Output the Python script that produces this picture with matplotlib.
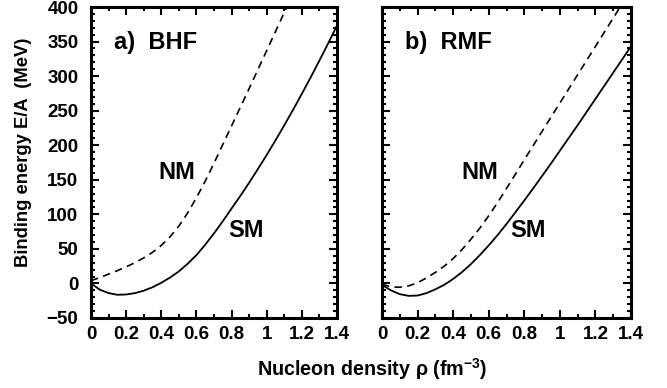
import numpy as np
import matplotlib
matplotlib.use("Agg")
import matplotlib.pyplot as plt
from matplotlib.ticker import MultipleLocator, FuncFormatter

plt.rcParams['font.family'] = ['Liberation Sans', 'DejaVu Sans']
plt.rcParams['font.weight'] = 'bold'
plt.rcParams['mathtext.fontset'] = 'custom'
plt.rcParams['mathtext.rm'] = 'Liberation Sans:bold'
plt.rcParams['mathtext.default'] = 'rm'

# Nucleon density grid (fm^-3)
rho = [0.0, 0.05, 0.10, 0.15, 0.20, 0.25, 0.30, 0.35, 0.40, 0.45, 0.50, 0.55, 0.60, 0.65,
       0.70, 0.75, 0.80, 0.85, 0.90, 0.95, 1.00, 1.05, 1.10, 1.15, 1.20, 1.25, 1.30, 1.35, 1.40]

# BHF: symmetric matter (SM) and neutron matter (NM), E/A in MeV
bhf_sm = [0.0, -9.0, -14.0, -16.4, -16.0, -14.0, -10.5, -5.5, 1.0, 8.5, 17.5, 28.5, 41.0, 56.0,
          72.5, 90.0, 108.5, 126.7, 145.8, 165.6, 186.0, 207.1, 228.9, 251.3, 274.4, 298.1,
          322.5, 347.5, 373.2]
bhf_nm = [4.0, 8.5, 13.5, 18.5, 24.0, 30.0, 37.0, 45.0, 55.0, 67.5, 83.0, 102.0, 124.0, 148.0,
          174.0, 201.0, 228.0, 255.0, 282.0, 309.5, 337.0, 364.5, 392.0, 419.5]

# RMF: symmetric matter (SM) and neutron matter (NM), E/A in MeV
rmf_sm = [-2.0, -10.0, -15.5, -18.0, -17.5, -14.0, -8.5, -2.0, 6.5, 16.5, 28.0, 41.0, 55.0, 70.0,
          86.0, 103.0, 120.0, 137.5, 155.5, 173.5, 192.0, 210.5, 229.0, 248.0, 267.0, 286.0,
          305.0, 324.0, 343.0]
rmf_nm = [-1.0, -5.0, -5.5, -3.5, 1.0, 8.0, 16.0, 25.0, 36.0, 49.0, 64.0, 80.0, 98.0, 117.0,
          137.5, 158.0, 179.0, 199.5, 220.0, 240.5, 261.0, 281.5, 302.0, 322.5, 343.0, 363.5,
          384.0, 404.5]

panels = [
    ("a)  BHF", bhf_sm, bhf_nm, (0.49, 161), (0.88, 77)),
    ("b)  RMF", rmf_sm, rmf_nm, (0.55, 161), (0.82, 77)),
]

W, H = 667, 388
fig = plt.figure(figsize=(W / 100, H / 100), dpi=100)
lefts = [91, 382]
widths = [246, 249]
top_px, bot_px = 7, 318

fmt = FuncFormatter(lambda v, p: ("%g" % round(v, 2)))

for i, (tag, sm, nm, nm_pos, sm_pos) in enumerate(panels):
    ax = fig.add_axes([lefts[i] / W, 1 - bot_px / H, widths[i] / W, (bot_px - top_px) / H])
    ax.plot(rho[:len(sm)], sm, color='black', lw=1.3)
    ax.plot(rho[:len(nm)], nm, color='black', lw=1.2, dashes=(4.5, 3.2))
    ax.set_xlim(0, 1.4)
    ax.set_ylim(-50, 400)
    ax.xaxis.set_major_locator(MultipleLocator(0.2))
    ax.xaxis.set_minor_locator(MultipleLocator(0.1))
    ax.yaxis.set_major_locator(MultipleLocator(50))
    ax.yaxis.set_minor_locator(MultipleLocator(10))
    ax.xaxis.set_major_formatter(fmt)
    ax.tick_params(which='both', direction='in', top=True, right=True, width=1.5)
    ax.tick_params(which='major', length=5.5, labelsize=13.5)
    ax.tick_params(which='minor', length=3)
    ax.tick_params(axis='x', which='major', pad=6)
    ax.tick_params(axis='y', which='major', pad=9)
    for s in ax.spines.values():
        s.set_linewidth(2.2)
    if i == 1:
        ax.set_yticklabels([])
    for lab in ax.get_xticklabels() + ax.get_yticklabels():
        lab.set_fontweight('bold')
    ax.text(0.13, 348, tag, fontsize=17, fontweight='bold', va='center', ha='left')
    ax.text(nm_pos[0], nm_pos[1], "NM", fontsize=17, fontweight='bold', va='center', ha='center')
    ax.text(sm_pos[0], sm_pos[1], "SM", fontsize=17, fontweight='bold', va='center', ha='center')

fig.text(24 / W, 1 - 152 / H, "Binding energy E/A  (MeV)", fontsize=13.2, fontweight='bold',
         rotation=90, ha='center', va='center')
fig.text(372 / W, 1 - 369 / H, r"Nucleon density $\rho$ (fm$^{-3}$)", fontsize=14.2,
         fontweight='bold', ha='center', va='center')

fig.savefig("out.png", dpi=100)
